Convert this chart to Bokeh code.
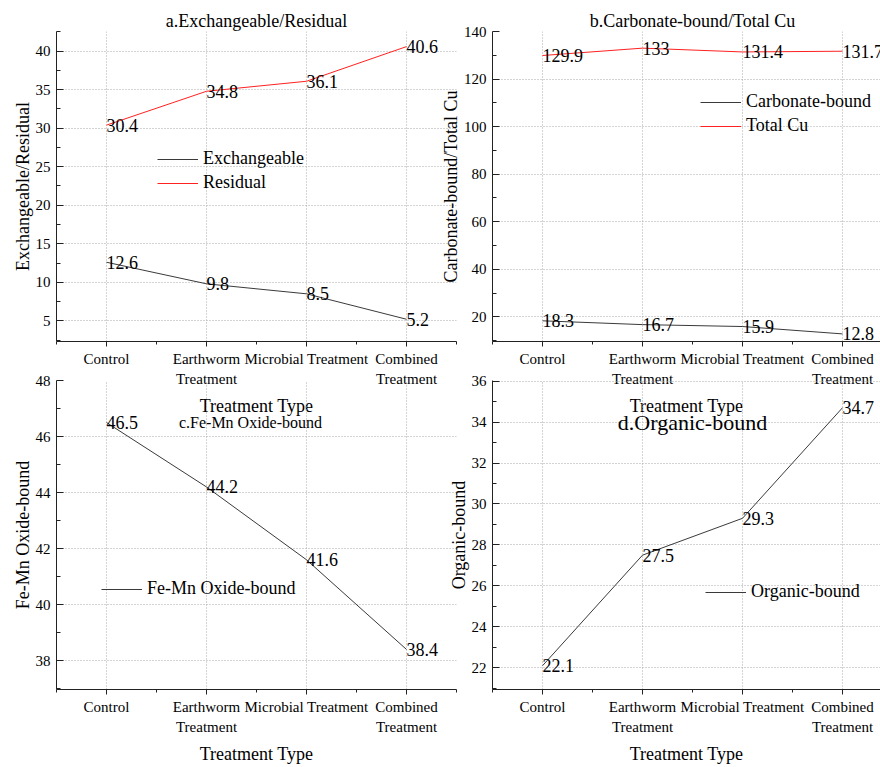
from bokeh.plotting import figure
from bokeh.models import Range1d, FixedTicker, Legend, LegendItem, Label, ColumnDataSource
from bokeh.embed import file_html
from bokeh.resources import INLINE
from bokeh.core.properties import value

# ---- data ----
categories = ["Control", "Earthworm\nTreatment", "Microbial Treatment", "Combined\nTreatment"]
exchangeable = [12.6, 9.8, 8.5, 5.2]
residual = [30.4, 34.8, 36.1, 40.6]
carbonate = [18.3, 16.7, 15.9, 12.8]
total_cu = [129.9, 133, 131.4, 131.7]
fe_mn = [46.5, 44.2, 41.6, 38.4]
organic = [22.1, 27.5, 29.3, 34.7]

a_ticks = [5, 10, 15, 20, 25, 30, 35, 40]
b_ticks = [20, 40, 60, 80, 100, 120, 140]
c_ticks = [38, 40, 42, 44, 46, 48]
d_ticks = [22, 24, 26, 28, 30, 32, 34, 36]

FONT = "Liberation Serif"
W, H = 872, 759
DARK = "#3a3a3a"
RED = "#ff2020"
xs = list(range(len(categories)))
ABS = {"position": "absolute", "top": "8px", "left": "8px"}


def minor_between(ticks):
    step = ticks[1] - ticks[0]
    return [ticks[0] - step / 2] + [t + step / 2 for t in ticks]


def make_panel(fl, fr, ft, fb, x_end, y_start, y_end, y_major, ylabel):
    p = figure(width=W, height=H, x_range=Range1d(-0.5, x_end), y_range=Range1d(y_start, y_end),
               output_backend="svg", toolbar_location=None,
               min_border_left=fl, min_border_right=W - fr,
               min_border_top=ft, min_border_bottom=H - fb, styles=ABS)
    p.background_fill_alpha = 0
    p.border_fill_alpha = 0
    p.outline_line_color = None
    p.title.text = ""

    xt = FixedTicker(ticks=xs, minor_ticks=[-0.5, 0.5, 1.5, 2.5, 3.5])
    yt = FixedTicker(ticks=y_major, minor_ticks=minor_between(y_major))
    p.xaxis.ticker = xt
    p.yaxis.ticker = yt
    p.xgrid.ticker = xt
    p.ygrid.ticker = yt
    p.xaxis.major_label_overrides = {i: c for i, c in enumerate(categories)}

    for g in (p.xgrid, p.ygrid):
        g.grid_line_color = "#a8a8a8"
        g.grid_line_dash = "1 2"
        g.grid_line_width = 1

    for ax in (p.xaxis, p.yaxis):
        ax.axis_line_color = "#222222"
        ax.major_tick_line_color = "#222222"
        ax.minor_tick_line_color = "#222222"
        ax.major_label_text_font = FONT
        ax.major_label_text_font_size = "15px"
        ax.major_label_text_color = "black"
        ax.axis_label_text_font = FONT
        ax.axis_label_text_font_size = "18px"
        ax.axis_label_text_font_style = "normal"
        ax.axis_label_text_color = "black"

    p.xaxis.major_tick_in = 0
    p.xaxis.major_tick_out = 5
    p.xaxis.minor_tick_in = 0
    p.xaxis.minor_tick_out = 3
    p.xaxis.major_label_standoff = 4
    p.xaxis.major_label_text_line_height = 1.3
    p.xaxis.axis_label = "Treatment Type"
    p.xaxis.axis_label_standoff = 6

    p.yaxis.major_tick_in = 7
    p.yaxis.major_tick_out = 0
    p.yaxis.minor_tick_in = 4
    p.yaxis.minor_tick_out = 0
    p.yaxis.major_label_standoff = 6
    p.yaxis.axis_label = ylabel
    p.yaxis.axis_label_standoff = 0
    return p


def add_title(p, x, y, text, size):
    p.add_layout(Label(x=x, y=y, text=text, text_align="center", text_baseline="middle",
                       text_font=FONT, text_font_size=size, text_color="black"))


def add_series(p, vals, color):
    src = ColumnDataSource(dict(x=xs, y=vals, lab=[f"{v:g}" for v in vals]))
    r = p.line("x", "y", source=src, line_color=color, line_width=1)
    p.text("x", "y", text="lab", source=src, text_font=value(FONT), text_font_size="18px",
           text_align="left", text_baseline="middle", text_color="black")
    return r


def add_legend(p, items, loc):
    lg = Legend(items=[LegendItem(label=t, renderers=[r]) for t, r in items], location=loc)
    lg.label_text_font = FONT
    lg.label_text_font_size = "18px"
    lg.label_text_color = "black"
    lg.glyph_width = 41
    lg.glyph_height = 20
    lg.label_height = 20
    lg.label_standoff = 5
    lg.spacing = 3
    lg.padding = 0
    lg.margin = 0
    lg.border_line_color = None
    lg.background_fill_alpha = 0
    p.add_layout(lg)


# panel a
pa = make_panel(48, 448, 23, 333, 3.5, 2.31, 42.56, a_ticks, "Exchangeable/Residual")
r1 = add_series(pa, exchangeable, DARK)
r2 = add_series(pa, residual, RED)
add_legend(pa, [("Exchangeable", r1), ("Residual", r2)], (101, 148))

# panel b
pb = make_panel(484, 872, 23, 333, 3.38, 9.6, 140.0, b_ticks, "Carbonate-bound/Total Cu")
r3 = add_series(pb, carbonate, DARK)
r4 = add_series(pb, total_cu, RED)
add_legend(pb, [("Carbonate-bound", r3), ("Total Cu", r4)], (208, 205))

# panel c
pc = make_panel(48, 448, 372, 682, 3.5, 36.97, 48.0, c_ticks, "Fe-Mn Oxide-bound")
r5 = add_series(pc, fe_mn, DARK)
add_legend(pc, [("Fe-Mn Oxide-bound", r5)], (45, 90))
add_title(pc, 1.44, 46.5, "c.Fe-Mn Oxide-bound", "16px")

# panel d
pd_ = make_panel(484, 872, 372, 682, 3.38, 20.94, 36.03, d_ticks, "Organic-bound")
r6 = add_series(pd_, organic, DARK)
add_legend(pd_, [("Organic-bound", r6)], (213, 87))
add_title(pd_, 1.5, 34.0, "d.Organic-bound", "22px")

# overlay for the titles of the top row (pixel coordinates of the page)
ov = figure(width=W, height=H, x_range=Range1d(0, W), y_range=Range1d(0, H),
            output_backend="svg", toolbar_location=None, min_border=0, styles=ABS)
ov.axis.visible = False
ov.grid.visible = False
ov.outline_line_color = None
ov.background_fill_alpha = 0
ov.border_fill_alpha = 0
add_title(ov, 248, H - 12, "a.Exchangeable/Residual", "18px")
add_title(ov, 684, H - 12, "b.Carbonate-bound/Total Cu", "18px")

open("out.html", "w").write(file_html([pa, pb, pc, pd_, ov], INLINE))
